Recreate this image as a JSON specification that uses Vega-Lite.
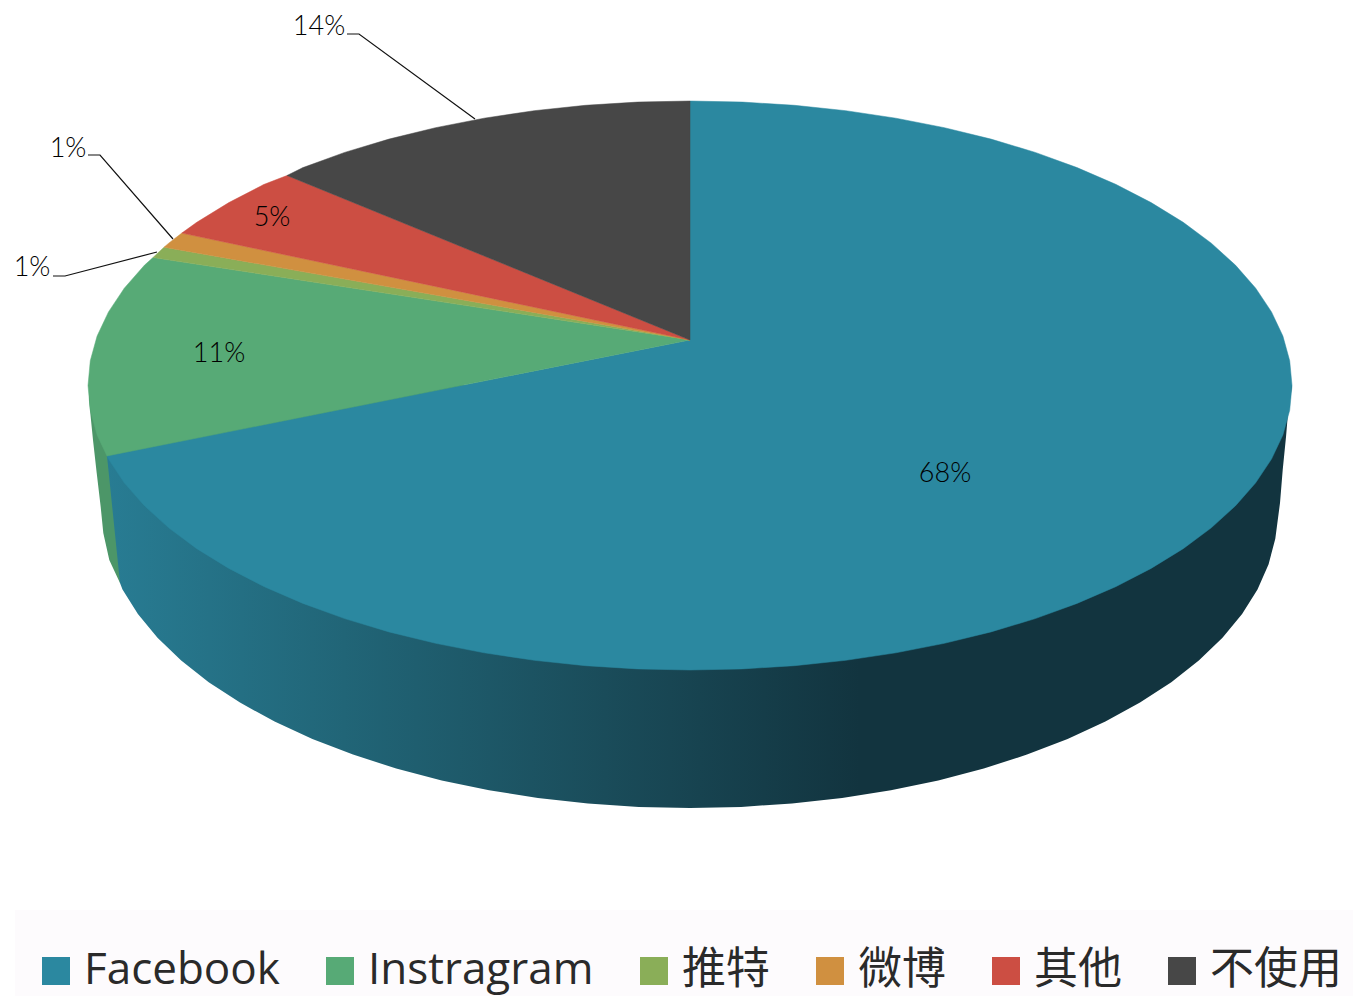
{"$schema":"https://vega.github.io/schema/vega-lite/v6.json","width":1353,"height":996,"autosize":"none","padding":0,"background":"white","config":{"view":{"stroke":null}},
"datasets":{
"band":[{"x":15,"x2":1353,"y":910,"y2":996}],
"igWall":[{"x":89,"y":400,"y2":385},{"x":93,"y":440,"y2":385},{"x":96.7,"y":473,"y2":385},{"x":100.7,"y":507,"y2":385},{"x":103.3,"y":533,"y2":385},{"x":109.3,"y":560,"y2":385},{"x":120,"y":583,"y2":385}],
"fbWall":[{"x":107,"y":456,"y2":385},{"x":120,"y":583,"y2":385},{"x":122.5,"y":589.4,"y2":385},{"x":137.9,"y":613.9,"y2":385},{"x":157.5,"y":637.7,"y2":385},{"x":181.2,"y":660.5,"y2":385},{"x":208.7,"y":682.2,"y2":385},{"x":240,"y":702.6,"y2":385},{"x":274.6,"y":721.6,"y2":385},{"x":312.4,"y":739,"y2":385},{"x":353,"y":754.6,"y2":385},{"x":396.2,"y":768.5,"y2":385},{"x":441.7,"y":780.4,"y2":385},{"x":489.1,"y":790.2,"y2":385},{"x":537.9,"y":797.9,"y2":385},{"x":588,"y":803.5,"y2":385},{"x":638.8,"y":806.9,"y2":385},{"x":690,"y":808,"y2":385},{"x":741.2,"y":806.9,"y2":385},{"x":792,"y":803.5,"y2":385},{"x":842.1,"y":797.9,"y2":385},{"x":890.9,"y":790.2,"y2":385},{"x":938.3,"y":780.4,"y2":385},{"x":983.8,"y":768.5,"y2":385},{"x":1027,"y":754.6,"y2":385},{"x":1067.6,"y":739,"y2":385},{"x":1105.4,"y":721.6,"y2":385},{"x":1140,"y":702.6,"y2":385},{"x":1171.3,"y":682.2,"y2":385},{"x":1198.8,"y":660.5,"y2":385},{"x":1222.5,"y":637.7,"y2":385},{"x":1242.1,"y":613.9,"y2":385},{"x":1257.5,"y":589.4,"y2":385},{"x":1268.6,"y":564.2,"y2":385},{"x":1275.3,"y":538.7,"y2":385},{"x":1280,"y":503,"y2":385},{"x":1282.7,"y":470,"y2":385},{"x":1286,"y":437,"y2":385},{"x":1288,"y":413,"y2":385},{"x":1290,"y":400,"y2":385},{"x":1292,"y":386,"y2":385}],
"slices":[
{"slice":"Facebook","i":0,"x":690,"y":340},{"slice":"Facebook","i":1,"x":690,"y":101},{"slice":"Facebook","i":2,"x":742.5,"y":102.1},{"slice":"Facebook","i":3,"x":794.5,"y":105.3},{"slice":"Facebook","i":4,"x":845.8,"y":110.7},{"slice":"Facebook","i":5,"x":895.9,"y":118.2},{"slice":"Facebook","i":6,"x":944.4,"y":127.7},{"slice":"Facebook","i":7,"x":991,"y":139.1},{"slice":"Facebook","i":8,"x":1035.3,"y":152.4},{"slice":"Facebook","i":9,"x":1077,"y":167.6},{"slice":"Facebook","i":10,"x":1115.7,"y":184.3},{"slice":"Facebook","i":11,"x":1151.1,"y":202.6},{"slice":"Facebook","i":12,"x":1183.2,"y":222.3},{"slice":"Facebook","i":13,"x":1211.3,"y":243.2},{"slice":"Facebook","i":14,"x":1235.6,"y":265.3},{"slice":"Facebook","i":15,"x":1255.7,"y":288.2},{"slice":"Facebook","i":16,"x":1271.5,"y":311.9},{"slice":"Facebook","i":17,"x":1282.9,"y":336.1},{"slice":"Facebook","i":18,"x":1289.7,"y":360.7},{"slice":"Facebook","i":19,"x":1292,"y":385.5},{"slice":"Facebook","i":20,"x":1289.7,"y":410.3},{"slice":"Facebook","i":21,"x":1282.9,"y":434.9},{"slice":"Facebook","i":22,"x":1271.5,"y":459.1},{"slice":"Facebook","i":23,"x":1255.7,"y":482.8},{"slice":"Facebook","i":24,"x":1235.6,"y":505.7},{"slice":"Facebook","i":25,"x":1211.3,"y":527.8},{"slice":"Facebook","i":26,"x":1183.2,"y":548.7},{"slice":"Facebook","i":27,"x":1151.1,"y":568.4},{"slice":"Facebook","i":28,"x":1115.7,"y":586.7},{"slice":"Facebook","i":29,"x":1077,"y":603.4},{"slice":"Facebook","i":30,"x":1035.3,"y":618.6},{"slice":"Facebook","i":31,"x":991,"y":631.9},{"slice":"Facebook","i":32,"x":944.4,"y":643.3},{"slice":"Facebook","i":33,"x":895.9,"y":652.8},{"slice":"Facebook","i":34,"x":845.8,"y":660.3},{"slice":"Facebook","i":35,"x":794.5,"y":665.7},{"slice":"Facebook","i":36,"x":742.5,"y":668.9},{"slice":"Facebook","i":37,"x":690,"y":670},{"slice":"Facebook","i":38,"x":637.5,"y":668.9},{"slice":"Facebook","i":39,"x":585.5,"y":665.7},{"slice":"Facebook","i":40,"x":534.2,"y":660.3},{"slice":"Facebook","i":41,"x":484.1,"y":652.8},{"slice":"Facebook","i":42,"x":435.6,"y":643.3},{"slice":"Facebook","i":43,"x":389,"y":631.9},{"slice":"Facebook","i":44,"x":344.7,"y":618.6},{"slice":"Facebook","i":45,"x":303,"y":603.4},{"slice":"Facebook","i":46,"x":264.3,"y":586.7},{"slice":"Facebook","i":47,"x":228.9,"y":568.4},{"slice":"Facebook","i":48,"x":196.8,"y":548.7},{"slice":"Facebook","i":49,"x":168.7,"y":527.8},{"slice":"Facebook","i":50,"x":144.4,"y":505.7},{"slice":"Facebook","i":51,"x":124.3,"y":482.8},{"slice":"Facebook","i":52,"x":108.5,"y":459.1},{"slice":"Facebook","i":53,"x":107,"y":456},{"slice":"Facebook","i":54,"x":690,"y":340},
{"slice":"Instragram","i":0,"x":690,"y":340},{"slice":"Instragram","i":1,"x":107,"y":456},{"slice":"Instragram","i":2,"x":97.1,"y":434.9},{"slice":"Instragram","i":3,"x":90.3,"y":410.3},{"slice":"Instragram","i":4,"x":88,"y":385.5},{"slice":"Instragram","i":5,"x":90.3,"y":360.7},{"slice":"Instragram","i":6,"x":97.1,"y":336.1},{"slice":"Instragram","i":7,"x":108.5,"y":311.9},{"slice":"Instragram","i":8,"x":124.3,"y":288.2},{"slice":"Instragram","i":9,"x":144.4,"y":265.3},{"slice":"Instragram","i":10,"x":153,"y":257.5},{"slice":"Instragram","i":11,"x":690,"y":340},
{"slice":"推特","i":0,"x":690,"y":340},{"slice":"推特","i":1,"x":153,"y":257.5},{"slice":"推特","i":2,"x":164,"y":247.2},{"slice":"推特","i":3,"x":690,"y":340},
{"slice":"微博","i":0,"x":690,"y":340},{"slice":"微博","i":1,"x":164,"y":247.2},{"slice":"微博","i":2,"x":168.7,"y":243.2},{"slice":"微博","i":3,"x":181.8,"y":233.1},{"slice":"微博","i":4,"x":690,"y":340},
{"slice":"其他","i":0,"x":690,"y":340},{"slice":"其他","i":1,"x":181.8,"y":233.1},{"slice":"其他","i":2,"x":196.8,"y":222.3},{"slice":"其他","i":3,"x":228.9,"y":202.6},{"slice":"其他","i":4,"x":264.3,"y":184.3},{"slice":"其他","i":5,"x":287,"y":175.5},{"slice":"其他","i":6,"x":690,"y":340},
{"slice":"不使用","i":0,"x":690,"y":340},{"slice":"不使用","i":1,"x":287,"y":175.5},{"slice":"不使用","i":2,"x":303,"y":167.6},{"slice":"不使用","i":3,"x":344.7,"y":152.4},{"slice":"不使用","i":4,"x":389,"y":139.1},{"slice":"不使用","i":5,"x":435.6,"y":127.7},{"slice":"不使用","i":6,"x":484.1,"y":118.2},{"slice":"不使用","i":7,"x":534.2,"y":110.7},{"slice":"不使用","i":8,"x":585.5,"y":105.3},{"slice":"不使用","i":9,"x":637.5,"y":102.1},{"slice":"不使用","i":10,"x":690,"y":101},{"slice":"不使用","i":11,"x":690,"y":340}
],
"leaders":[
{"k":"a","i":0,"x":347,"y":34},{"k":"a","i":1,"x":359,"y":34},{"k":"a","i":2,"x":475,"y":119},
{"k":"b","i":0,"x":88,"y":155},{"k":"b","i":1,"x":100,"y":155},{"k":"b","i":2,"x":173,"y":239},
{"k":"c","i":0,"x":53,"y":276},{"k":"c","i":1,"x":65,"y":276},{"k":"c","i":2,"x":157,"y":252}
],
"labels":[{"t":"68%","x":945,"y":474},{"t":"11%","x":219,"y":354},{"t":"5%","x":272,"y":218},{"t":"14%","x":319,"y":27},{"t":"1%","x":68,"y":149},{"t":"1%","x":32,"y":268}]
},
"layer":[
{"data":{"name":"band"},"mark":{"type":"rect","color":"#fdfbfd"},"encoding":{"x":{"field":"x","type":"quantitative","scale":{"domain":[0,1353]},"axis":null},"x2":{"field":"x2"},"y":{"field":"y","type":"quantitative","scale":{"domain":[0,996],"reverse":true},"axis":null},"y2":{"field":"y2"}}},
{"data":{"name":"igWall"},"mark":{"type":"area","color":"#4c9668"},"encoding":{"x":{"field":"x","type":"quantitative","scale":{"domain":[0,1353]},"axis":null},"y":{"field":"y","type":"quantitative","scale":{"domain":[0,996],"reverse":true},"axis":null},"y2":{"field":"y2"}}},
{"data":{"name":"fbWall"},"mark":{"type":"area","color":{"gradient":"linear","x1":0,"x2":1,"y1":0,"y2":0,"stops":[{"offset":0,"color":"#287c93"},{"offset":0.2,"color":"#216577"},{"offset":0.42,"color":"#1a4c5a"},{"offset":0.635,"color":"#12343f"},{"offset":1,"color":"#12343f"}]}},"encoding":{"x":{"field":"x","type":"quantitative","scale":{"domain":[0,1353]},"axis":null},"y":{"field":"y","type":"quantitative","scale":{"domain":[0,996],"reverse":true},"axis":null},"y2":{"field":"y2"}}},
{"data":{"name":"slices"},"mark":{"type":"line","strokeWidth":0.5,"interpolate":"linear"},"encoding":{"x":{"field":"x","type":"quantitative","scale":{"domain":[0,1353]},"axis":null},"y":{"field":"y","type":"quantitative","scale":{"domain":[0,996],"reverse":true},"axis":null},"order":{"field":"i","type":"quantitative"},
"fill":{"field":"slice","type":"nominal","scale":{"domain":["Facebook","Instragram","推特","微博","其他","不使用"],"range":["#2b88a0","#57aa76","#8aae58","#d09040","#cc4e43","#474747"]},"legend":{"title":null,"orient":"none","legendX":34,"legendY":949,"direction":"horizontal","columns":6,"symbolType":"square","symbolSize":784,"symbolStrokeWidth":0,"labelFont":"Open Sans, Noto Sans CJK TC","labelFontSize":44,"labelColor":"#2a2a2a","labelOffset":6,"columnPadding":38,"padding":0,"symbolOpacity":1,"labelLimit":400}},
"stroke":{"field":"slice","type":"nominal","legend":null,"scale":{"domain":["Facebook","Instragram","推特","微博","其他","不使用"],"range":["#2b88a0","#57aa76","#8aae58","#d09040","#cc4e43","#474747"]}}}},
{"data":{"name":"leaders"},"mark":{"type":"line","color":"#111111","strokeWidth":1.2},"encoding":{"x":{"field":"x","type":"quantitative","scale":{"domain":[0,1353]},"axis":null},"y":{"field":"y","type":"quantitative","scale":{"domain":[0,996],"reverse":true},"axis":null},"detail":{"field":"k"},"order":{"field":"i","type":"quantitative"}}},
{"data":{"name":"labels"},"mark":{"type":"text","font":"Lato","fontWeight":300,"fontSize":27,"color":"#000000","align":"center","baseline":"middle"},"encoding":{"x":{"field":"x","type":"quantitative","scale":{"domain":[0,1353]},"axis":null},"y":{"field":"y","type":"quantitative","scale":{"domain":[0,996],"reverse":true},"axis":null},"text":{"field":"t"}}}
]}
